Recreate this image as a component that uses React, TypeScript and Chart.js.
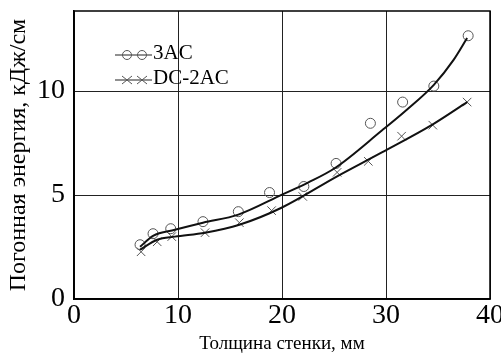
import React, { useEffect, useRef } from 'react';
import { Chart, registerables } from 'chart.js';

Chart.register(...registerables);

// Series names (legend)
const seriesNames = ['3AC', 'DC-2AC'];

// Measured points: 3AC (circles)
const thicknessAC3 = [6.35, 7.6, 9.3, 12.4, 15.8, 18.8, 22.1, 25.2, 28.5, 31.6, 34.6, 37.9];
const energyAC3 = [2.61, 3.14, 3.38, 3.72, 4.2, 5.12, 5.41, 6.52, 8.45, 9.47, 10.24, 12.66];

// Measured points: DC-2AC (crosses)
const thicknessDC = [6.45, 8.0, 9.4, 12.6, 15.9, 19.0, 22.0, 25.3, 28.3, 31.5, 34.5, 37.8];
const energyDC = [2.27, 2.75, 3.0, 3.19, 3.67, 4.25, 4.93, 6.09, 6.62, 7.83, 8.36, 9.47];

// Fitted curve: 3AC
const fitXAC3 = [6.35, 7.6, 9.7, 12.4, 15.8, 20.0, 22.5, 25.1, 29.6, 32.0, 34.6, 36.5, 37.8];
const fitYAC3 = [2.51, 3.04, 3.33, 3.67, 4.06, 5.02, 5.6, 6.3, 8.1, 9.1, 10.3, 11.5, 12.55];

// Fitted curve: DC-2AC
const fitXDC = [6.35, 8.0, 9.7, 12.6, 15.9, 20.0, 25.3, 29.6, 34.5, 37.8];
const fitYDC = [2.37, 2.85, 3.0, 3.19, 3.57, 4.4, 5.9, 7.05, 8.4, 9.47];

// Axis ticks
const xTicks = [0, 10, 20, 30, 40];
const yTicks = [0, 5, 10];

const xTitle = 'Толщина стенки, мм';
const yTitle = 'Погонная энергия, кДж/см';

const zip = (xs: number[], ys: number[]) => xs.map((x, i) => ({ x, y: ys[i] }));

const framePlugin = {
  id: 'frame',
  afterDraw(chart: any) {
    const { ctx, chartArea } = chart;
    ctx.save();
    ctx.strokeStyle = '#000';
    ctx.lineWidth = 1.5;
    ctx.strokeRect(chartArea.left, chartArea.top, chartArea.right - chartArea.left, chartArea.bottom - chartArea.top);
    ctx.restore();
  },
};

const legendPlugin = {
  id: 'innerLegend',
  afterDraw(chart: any) {
    const { ctx, chartArea } = chart;
    const x0 = chartArea.left + 41;
    const y0 = chartArea.top + 44;
    const rowH = 25;
    ctx.save();
    ctx.font = '21px "Liberation Serif", serif';
    ctx.fillStyle = '#000';
    ctx.textBaseline = 'middle';
    seriesNames.forEach((name, i) => {
      const y = y0 + i * rowH;
      ctx.strokeStyle = '#222';
      ctx.lineWidth = 1.2;
      ctx.beginPath();
      ctx.moveTo(x0, y);
      ctx.lineTo(x0 + 37, y);
      ctx.stroke();
      ctx.strokeStyle = '#555';
      ctx.lineWidth = 1;
      [x0 + 12, x0 + 27].forEach((mx) => {
        ctx.beginPath();
        if (i === 0) {
          ctx.arc(mx, y, 4.5, 0, Math.PI * 2);
        } else {
          ctx.moveTo(mx - 5, y - 4);
          ctx.lineTo(mx + 5, y + 4);
          ctx.moveTo(mx - 5, y + 4);
          ctx.lineTo(mx + 5, y - 4);
        }
        ctx.stroke();
      });
      ctx.fillText(name, x0 + 38, y - 2);
    });
    ctx.restore();
  },
};

export default function App() {
  const ref = useRef<HTMLCanvasElement>(null);
  useEffect(() => {
    document.body.style.margin = '0';
    const canvas = ref.current!;
    const chart = new Chart(canvas, {
      type: 'scatter',
      data: {
        datasets: [
          {
            label: seriesNames[0] + ' fit',
            data: zip(fitXAC3, fitYAC3),
            showLine: true,
            borderColor: '#111',
            borderWidth: 2,
            pointRadius: 0,
            cubicInterpolationMode: 'monotone',
          },
          {
            label: seriesNames[1] + ' fit',
            data: zip(fitXDC, fitYDC),
            showLine: true,
            borderColor: '#111',
            borderWidth: 2,
            pointRadius: 0,
            cubicInterpolationMode: 'monotone',
          },
          {
            label: seriesNames[0],
            data: zip(thicknessAC3, energyAC3),
            showLine: false,
            pointStyle: 'circle',
            pointRadius: 5,
            borderWidth: 1,
            borderColor: '#555',
            backgroundColor: 'rgba(0,0,0,0)',
          },
          {
            label: seriesNames[1],
            data: zip(thicknessDC, energyDC),
            showLine: false,
            pointStyle: 'crossRot',
            pointRadius: 6,
            borderWidth: 1,
            borderColor: '#555',
            backgroundColor: 'rgba(0,0,0,0)',
          },
        ],
      },
      options: {
        responsive: false,
        animation: false,
        devicePixelRatio: 1,
        layout: { padding: { top: 11, right: 11, left: 0, bottom: 0 } },
        plugins: { legend: { display: false }, tooltip: { enabled: false } },
        scales: {
          x: {
            type: 'linear',
            min: 0,
            max: 40,
            afterBuildTicks: (scale: any) => {
              scale.ticks = xTicks.map((v) => ({ value: v }));
            },
            afterFit: (scale: any) => {
              scale.height = 59;
              scale.paddingLeft = 0;
              scale.paddingRight = 0;
            },
            grid: { color: '#222', lineWidth: 1, drawTicks: false },
            border: { display: true, color: '#000', width: 1.5 },
            ticks: {
              color: '#000',
              padding: 0,
              maxRotation: 0,
              font: { family: '"Liberation Serif", serif', size: 28 },
            },
            title: {
              display: true,
              text: xTitle,
              color: '#000',
              padding: { top: 0, bottom: 3 },
              font: { family: '"Liberation Serif", serif', size: 19 },
            },
          },
          y: {
            type: 'linear',
            min: 0,
            max: 13.85,
            afterBuildTicks: (scale: any) => {
              scale.ticks = yTicks.map((v) => ({ value: v }));
            },
            afterFit: (scale: any) => {
              scale.width = 74;
              scale.paddingTop = 0;
              scale.paddingBottom = 0;
            },
            grid: { color: '#222', lineWidth: 1, drawTicks: false },
            border: { display: true, color: '#000', width: 1.5 },
            ticks: {
              color: '#000',
              padding: 9,
              font: { family: '"Liberation Serif", serif', size: 28 },
            },
            title: {
              display: true,
              text: yTitle,
              color: '#000',
              padding: { top: 4, bottom: 0 },
              font: { family: '"Liberation Serif", serif', size: 24 },
            },
          },
        },
      },
      plugins: [framePlugin, legendPlugin],
    } as any);
    return () => chart.destroy();
  }, []);
  return (
    <div style={{ width: 501, height: 358, background: '#fff' }}>
      <canvas ref={ref} width={501} height={358} style={{ display: 'block' }} />
    </div>
  );
}
